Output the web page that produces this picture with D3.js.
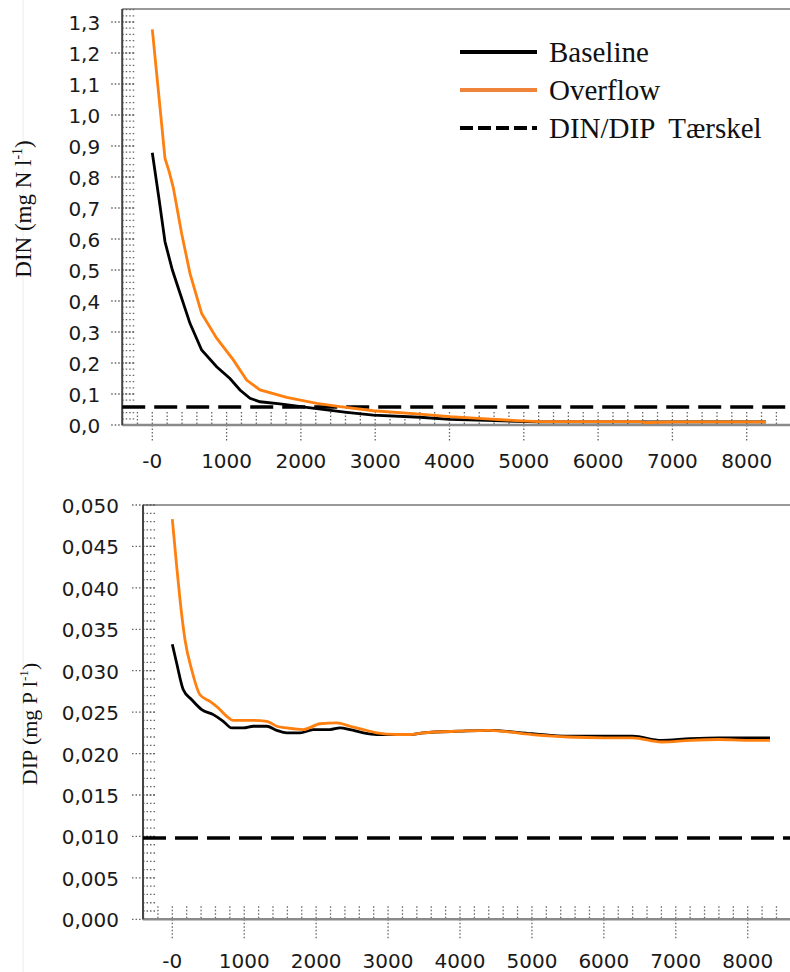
<!DOCTYPE html>
<html>
<head>
<meta charset="utf-8">
<script src="https://cdn.jsdelivr.net/npm/d3@7"></script>
<style>
  body { margin: 0; background: #fff; }
  svg { display: block; }
</style>
</head>
<body>
<div id="chart"></div>
<script>
// DIN panel (mg N/l) vs distance
var dinBaseX = [0, 90, 171, 270, 373, 507, 664, 866, 1045, 1180, 1315, 1450, 1719, 2078, 2617, 2975, 3602, 4006, 4500, 4900, 5200, 6000, 7000, 8260];
var dinBaseY = [0.878, 0.73, 0.591, 0.50, 0.425, 0.328, 0.242, 0.188, 0.150, 0.113, 0.086, 0.075, 0.068, 0.057, 0.041, 0.032, 0.025, 0.018, 0.015, 0.012, 0.010, 0.010, 0.010, 0.010];
var dinOverX = [0, 85, 171, 230, 283, 395, 507, 664, 866, 1090, 1270, 1450, 1809, 2212, 2526, 2975, 3602, 4006, 4500, 4900, 5200, 6000, 6550, 6650, 7050, 8260];
var dinOverY = [1.276, 1.07, 0.86, 0.815, 0.765, 0.618, 0.489, 0.36, 0.28, 0.21, 0.145, 0.113, 0.089, 0.07, 0.059, 0.046, 0.035, 0.027, 0.02, 0.014, 0.011, 0.011, 0.011, 0.008, 0.010, 0.010];
var dinThreshold = 0.058;
var dinTicks = [0, 0.1, 0.2, 0.3, 0.4, 0.5, 0.6, 0.7, 0.8, 0.9, 1.0, 1.1, 1.2, 1.3];

// DIP panel (mg P/l)
var dipBaseX = [0, 61, 153, 270, 409, 570, 709, 826, 987, 1127, 1313, 1452, 1591, 1776, 1961, 2193, 2332, 2471, 2657, 2842, 3120, 3305, 3490, 4000, 4400, 5000, 5500, 6000, 6400, 6800, 7200, 7600, 8000, 8310];
var dipBaseY = [0.0332, 0.0309, 0.0277, 0.0265, 0.0253, 0.0247, 0.0239, 0.0231, 0.0231, 0.0233, 0.0233, 0.0228, 0.0225, 0.0225, 0.0229, 0.0229, 0.0231, 0.0229, 0.0225, 0.0223, 0.0223, 0.0223, 0.0225, 0.0227, 0.0228, 0.0224, 0.0221, 0.0221, 0.0221, 0.0216, 0.0218, 0.0219, 0.0219, 0.0219];
var dipOverX = [0, 61, 107, 177, 270, 385, 524, 640, 757, 848, 1127, 1313, 1452, 1591, 1822, 2054, 2287, 2471, 2657, 2842, 3120, 3305, 3490, 4000, 4400, 5000, 5500, 6000, 6400, 6800, 7200, 7600, 8000, 8310];
var dipOverY = [0.0483, 0.0426, 0.0386, 0.0337, 0.0301, 0.0271, 0.0263, 0.0255, 0.0245, 0.0240, 0.0240, 0.0239, 0.0233, 0.0231, 0.0229, 0.0236, 0.0237, 0.0233, 0.0229, 0.0225, 0.0223, 0.0223, 0.0225, 0.0227, 0.0228, 0.0223, 0.0220, 0.0219, 0.0219, 0.0214, 0.0216, 0.0217, 0.0216, 0.0216];
var dipThreshold = 0.0098;
var dipTicks = [0, 0.005, 0.010, 0.015, 0.020, 0.025, 0.030, 0.035, 0.040, 0.045, 0.050];

var xTicks = [0, 1000, 2000, 3000, 4000, 5000, 6000, 7000, 8000];
var legendLabels = ["Baseline", "Overflow", "DIN/DIP  Tærskel"];

var width = 790, height = 972;
var baseCol = "#000", overCol = "#ff7f0f", dotCol = "#666";

var svg = d3.select("#chart").append("svg")
    .attr("width", width)
    .attr("height", height);

// faint guide line at far left
svg.append("line")
    .attr("x1", 23).attr("x2", 23).attr("y1", 0).attr("y2", height)
    .attr("stroke", "#ececec").attr("stroke-width", 1);

function zip(xs, ys) { return xs.map(function(d, i) { return [d, ys[i]]; }); }

function panel(o) {
  var x = d3.scaleLinear().domain([0, 8000]).range(o.xr);
  var y = d3.scaleLinear().domain(o.yd).range(o.yr);
  var left = x(o.xmin), right = width;
  var g = svg.append("g");

  // frame top
  g.append("line")
      .attr("x1", left).attr("x2", right)
      .attr("y1", y(o.ytop)).attr("y2", y(o.ytop))
      .attr("stroke", "#999").attr("stroke-width", 2);

  // x minor ticks (every 200) above the axis
  d3.range(-400, 8601, 200).forEach(function(v) {
    g.append("line")
        .attr("x1", x(v)).attr("x2", x(v))
        .attr("y1", y(0) - 13).attr("y2", y(0))
        .attr("stroke", dotCol).attr("stroke-width", 1.3)
        .attr("stroke-dasharray", "1.5,2");
  });
  // x major ticks below the axis
  xTicks.forEach(function(v) {
    g.append("line")
        .attr("x1", x(v)).attr("x2", x(v))
        .attr("y1", y(0)).attr("y2", y(0) + o.majorLen)
        .attr("stroke", dotCol).attr("stroke-width", 1.3)
        .attr("stroke-dasharray", "1.5,2");
    g.append("text")
        .attr("x", x(v)).attr("y", y(0) + o.labelDy)
        .attr("text-anchor", "middle")
        .attr("font-family", "DejaVu Sans, Verdana, sans-serif")
        .attr("font-size", 20).attr("fill", "#1a1a1a")
        .text(v === 0 ? "-0" : String(v));
  });

  // y minor ticks to the right of the axis
  d3.range(0, o.ytop + 1e-9, o.yminor).forEach(function(v) {
    g.append("line")
        .attr("x1", left).attr("x2", left + 12)
        .attr("y1", y(v)).attr("y2", y(v))
        .attr("stroke", dotCol).attr("stroke-width", 1.3)
        .attr("stroke-dasharray", "1.5,2");
  });
  // y major ticks and labels
  o.yticks.forEach(function(v) {
    g.append("line")
        .attr("x1", left - 11).attr("x2", left + 12)
        .attr("y1", y(v)).attr("y2", y(v))
        .attr("stroke", dotCol).attr("stroke-width", 1.3)
        .attr("stroke-dasharray", "1.5,2");
    g.append("text")
        .attr("x", left - o.labelGap).attr("y", y(v) + 8)
        .attr("text-anchor", "end")
        .attr("font-family", "DejaVu Sans, Verdana, sans-serif")
        .attr("font-size", 20).attr("fill", "#1a1a1a")
        .text(d3.format(o.fmt)(v).replace(".", ","));
  });

  // axes lines
  g.append("line")
      .attr("x1", left).attr("x2", right)
      .attr("y1", y(0)).attr("y2", y(0))
      .attr("stroke", "#8a8a8a").attr("stroke-width", 2.5);
  g.append("line")
      .attr("x1", left).attr("x2", left)
      .attr("y1", y(o.ytop)).attr("y2", y(0))
      .attr("stroke", "#444").attr("stroke-width", 2);

  // threshold
  g.append("line")
      .attr("x1", left).attr("x2", right)
      .attr("y1", y(o.thr)).attr("y2", y(o.thr))
      .attr("stroke", "#000").attr("stroke-width", 3.5)
      .attr("stroke-dasharray", "23,9");

  var line = d3.line()
      .x(function(d) { return x(d[0]); })
      .y(function(d) { return y(d[1]); })
      .curve(o.curve);

  g.append("path").datum(zip(o.bx, o.by))
      .attr("d", line).attr("fill", "none")
      .attr("stroke", baseCol).attr("stroke-width", 2.8);
  g.append("path").datum(zip(o.ox, o.oy))
      .attr("d", line).attr("fill", "none")
      .attr("stroke", overCol).attr("stroke-width", 2.8);

  // axis title
  var t = svg.append("text")
      .attr("transform", "translate(" + o.titleX + "," + o.titleY + ") rotate(-90)")
      .attr("text-anchor", "middle")
      .attr("font-family", "Liberation Serif, Times New Roman, serif")
      .attr("font-size", o.titleSize).attr("fill", "#111");
  t.append("tspan").text(o.title);
  t.append("tspan").attr("font-size", o.titleSize * 0.6).attr("dy", -o.titleSize * 0.4).text("-1");
  t.append("tspan").attr("dy", o.titleSize * 0.4).text(")");
}

panel({
  xr: [152.3, 746.7], xmin: -405,
  yd: [0, 1.3], yr: [425, 22], ytop: 1.342, yminor: 0.02,
  yticks: dinTicks, fmt: ".1f", labelGap: 22,
  majorLen: 17, labelDy: 43,
  thr: dinThreshold, curve: d3.curveLinear,
  bx: dinBaseX, by: dinBaseY, ox: dinOverX, oy: dinOverY,
  title: "DIN (mg N l", titleX: 31, titleY: 209, titleSize: 23
});

panel({
  xr: [172.3, 747.7], xmin: -407,
  yd: [0, 0.05], yr: [919.3, 505], ytop: 0.05, yminor: 0.001,
  yticks: dipTicks, fmt: ".3f", labelGap: 24,
  majorLen: 19, labelDy: 49,
  thr: dipThreshold, curve: d3.curveMonotoneX,
  bx: dipBaseX, by: dipBaseY, ox: dipOverX, oy: dipOverY,
  title: "DIP (mg P l", titleX: 37, titleY: 724, titleSize: 22
});

// legend
var legend = svg.append("g");
var legendY = d3.scaleOrdinal().domain(legendLabels).range([52, 90, 128]);
legendLabels.forEach(function(lab, i) {
  legend.append("line")
      .attr("x1", 460).attr("x2", 537)
      .attr("y1", legendY(lab)).attr("y2", legendY(lab))
      .attr("stroke", i === 1 ? "#f0843a" : "#000")
      .attr("stroke-width", 4)
      .attr("stroke-dasharray", i === 2 ? "13,5" : null);
  legend.append("text")
      .attr("x", 549).attr("y", legendY(lab) + 10)
      .attr("font-family", "Liberation Serif, Times New Roman, serif")
      .attr("font-size", 29).attr("fill", "#111")
      .attr("xml:space", "preserve")
      .style("white-space", "pre")
      .text(lab);
});
</script>
</body>
</html>
